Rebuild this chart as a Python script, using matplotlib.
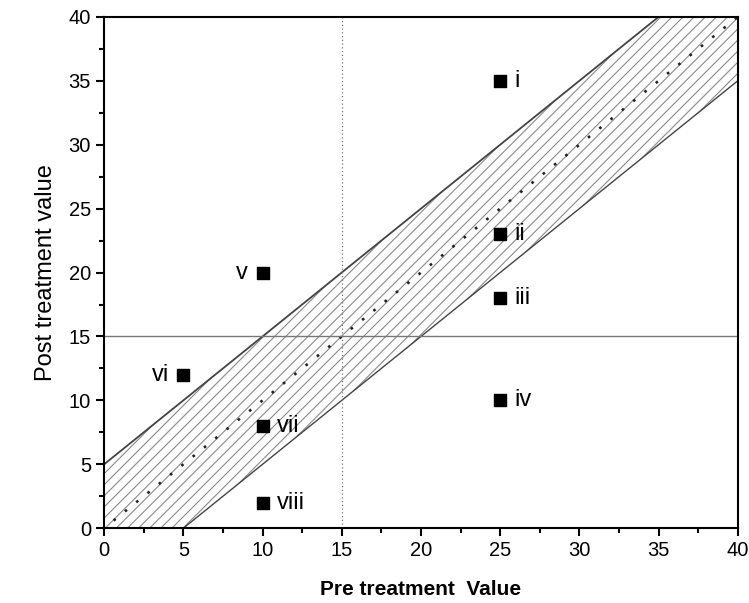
import numpy as np
import matplotlib
matplotlib.use("Agg")
import matplotlib.pyplot as plt
from matplotlib.ticker import MultipleLocator

plt.rcParams['font.family'] = ['Liberation Sans', 'DejaVu Sans']
plt.rcParams['hatch.color'] = '#8a8a8a'
plt.rcParams['hatch.linewidth'] = 0.8

# Measured points (pre, post) with their labels
labels = ["i", "ii", "iii", "iv", "v", "vi", "vii", "viii"]
pre_vals = [25, 25, 25, 25, 10, 5, 10, 10]
post_vals = [35, 23, 18, 10, 20, 12, 8, 2]
label_side = ["right", "right", "right", "right", "left", "left", "right", "right"]

# Band of no change (identity line +/- margin) and cut-off value
margin = 5
cutoff = 15
ticks = [0, 5, 10, 15, 20, 25, 30, 35, 40]

fig = plt.figure(figsize=(7.49, 6.03), dpi=100)
ax = fig.add_axes([0.139, 0.124, 0.846, 0.848])

xs = np.array([0, 40])
ax.fill_between(xs, xs - margin, xs + margin, facecolor='none',
                edgecolor='#8a8a8a', hatch='///', linewidth=0)
ax.plot(xs, xs + margin, color='#444444', lw=1.3)
ax.plot(xs, xs - margin, color='#444444', lw=1.0)
ax.plot([0.6, 40], [0.6, 40], color='#222222', lw=1.9, ls=(0, (1, 4.5)))

ax.axvline(cutoff, color='#777777', lw=0.9, ls=(0, (1, 2)))
ax.axhline(cutoff, color='#777777', lw=1.0)

ax.scatter(pre_vals, post_vals, marker='s', s=85, color='black', zorder=5)
for lab, x, y, side in zip(labels, pre_vals, post_vals, label_side):
    if side == "right":
        ax.text(x + 0.9, y, lab, fontsize=17, va='center', ha='left')
    else:
        ax.text(x - 0.9, y, lab, fontsize=17, va='center', ha='right')

ax.set_xlim(0, 40)
ax.set_ylim(0, 40)
ax.set_xticks(ticks)
ax.set_yticks(ticks)
ax.xaxis.set_minor_locator(MultipleLocator(2.5))
ax.yaxis.set_minor_locator(MultipleLocator(2.5))
ax.tick_params(which='major', direction='out', length=6, width=1.5, labelsize=14.5)
ax.tick_params(which='minor', direction='out', length=3.5, width=1.5)
for sp in ax.spines.values():
    sp.set_linewidth(1.5)

ax.set_xlabel("Pre treatment  Value", fontsize=15, fontweight='bold', labelpad=14)
ax.set_ylabel("Post treatment value", fontsize=17, labelpad=8)

fig.savefig("out.png", dpi=100)
